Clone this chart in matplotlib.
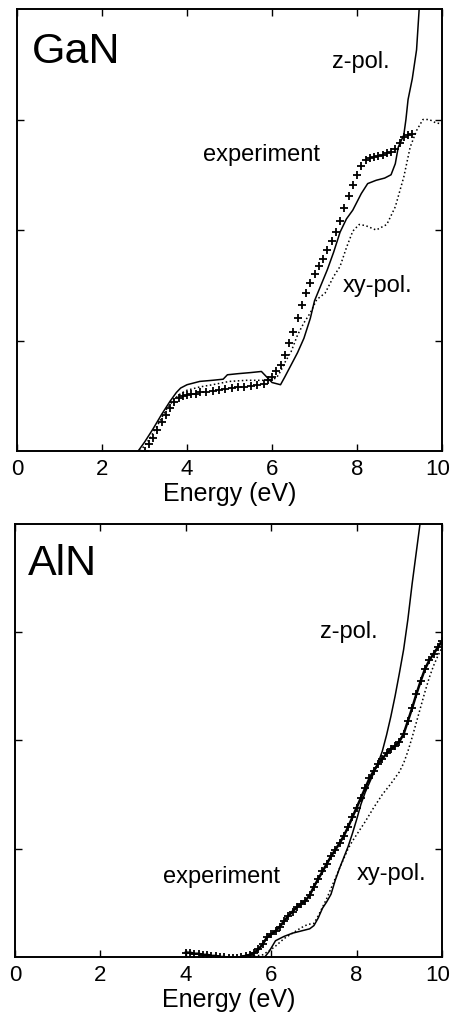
import numpy as np
import matplotlib.pyplot as plt
import matplotlib.transforms as mtransforms

plt.rcParams['font.family'] = ['Liberation Sans', 'DejaVu Sans']

# GaN: measured spectrum and the two calculated polarizations
gan_exp_e = [3.0, 3.1, 3.2, 3.3, 3.4, 3.5, 3.6, 3.7, 3.8, 3.9, 4.0, 4.1, 4.2, 4.3,
             4.45, 4.6, 4.75, 4.9, 5.05, 5.2, 5.35, 5.5, 5.65, 5.8, 5.9, 6.0, 6.1,
             6.2, 6.3, 6.4, 6.5, 6.6, 6.7, 6.8, 6.9, 7.0, 7.1, 7.2, 7.3, 7.4, 7.5,
             7.6, 7.7, 7.8, 7.9, 8.0, 8.1, 8.2, 8.3, 8.4, 8.5, 8.6, 8.7, 8.8, 8.9,
             9.0, 9.1, 9.2, 9.3]
gan_exp = [0.0, 0.06, 0.12, 0.19, 0.26, 0.33, 0.39, 0.44, 0.48, 0.5, 0.51, 0.52,
           0.52, 0.53, 0.53, 0.54, 0.55, 0.56, 0.57, 0.58, 0.58, 0.59, 0.6, 0.61,
           0.64, 0.67, 0.72, 0.78, 0.87, 0.98, 1.08, 1.2, 1.32, 1.43, 1.52, 1.6,
           1.67, 1.74, 1.82, 1.9, 1.98, 2.08, 2.2, 2.31, 2.41, 2.5, 2.58, 2.63,
           2.65, 2.66, 2.67, 2.68, 2.7, 2.71, 2.73, 2.79, 2.84, 2.86, 2.87]

gan_z_e = [2.85, 3.0, 3.2, 3.4, 3.6, 3.75, 3.85, 4.0, 4.3, 4.6, 4.85, 4.95, 5.2,
           5.5, 5.75, 5.85, 6.0, 6.2, 6.3, 6.45, 6.6, 6.75, 6.9, 7.0, 7.15, 7.3,
           7.45, 7.6, 7.75, 7.9, 8.1, 8.25, 8.45, 8.65, 8.8, 8.9, 8.97, 9.1,
           9.15, 9.2, 9.3, 9.4, 9.47]
gan_z = [0.0, 0.08, 0.2, 0.33, 0.45, 0.53, 0.57, 0.6, 0.63, 0.64, 0.65, 0.69,
         0.7, 0.71, 0.72, 0.68, 0.62, 0.6, 0.67, 0.78, 0.89, 1.02, 1.2, 1.36,
         1.5, 1.64, 1.8, 1.98, 2.1, 2.18, 2.33, 2.42, 2.45, 2.47, 2.5, 2.6,
         2.75, 2.86, 3.0, 3.18, 3.37, 3.63, 4.05]

gan_xy_e = [2.9, 3.1, 3.3, 3.5, 3.7, 3.85, 4.0, 4.3, 4.6, 5.0, 5.4, 5.9, 6.1,
            6.2, 6.3, 6.45, 6.6, 6.75, 6.9, 7.05, 7.25, 7.45, 7.6, 7.75, 7.9,
            8.05, 8.2, 8.45, 8.7, 8.9, 9.1, 9.25, 9.4, 9.55, 9.7, 9.85, 10.0]
gan_xy = [0.0, 0.1, 0.23, 0.37, 0.47, 0.52, 0.55, 0.58, 0.6, 0.63, 0.64, 0.64,
          0.66, 0.72, 0.8, 0.9, 1.05, 1.16, 1.25, 1.37, 1.43, 1.58, 1.67, 1.84,
          1.99, 2.05, 2.04, 2.0, 2.05, 2.21, 2.48, 2.75, 2.9, 3.0, 3.0, 2.97,
          2.96]

# AlN
aln_exp_e = [4.0, 4.1, 4.2, 4.3, 4.4, 4.5, 4.6, 4.7, 4.8, 4.9, 5.0, 5.1, 5.2,
             5.3, 5.4, 5.5, 5.6, 5.7, 5.8, 5.9, 6.0, 6.1, 6.2, 6.3, 6.4, 6.5,
             6.6, 6.7, 6.8, 6.9, 7.0, 7.1, 7.2, 7.3, 7.4, 7.5, 7.6, 7.7, 7.8,
             7.9, 8.0, 8.1, 8.2, 8.3, 8.4, 8.5, 8.6, 8.7, 8.8, 8.9, 9.0, 9.1,
             9.2, 9.3, 9.4, 9.5, 9.6, 9.7, 9.8, 9.9, 10.0]
aln_exp = [0.04, 0.04, 0.03, 0.03, 0.02, 0.02, 0.01, 0.01, 0.0, 0.0, -0.01,
           -0.01, -0.01, 0.0, 0.01, 0.02, 0.04, 0.07, 0.12, 0.18, 0.21, 0.24,
           0.28, 0.33, 0.38, 0.42, 0.46, 0.49, 0.52, 0.57, 0.65, 0.72, 0.79,
           0.86, 0.93, 0.99, 1.05, 1.12, 1.2, 1.29, 1.38, 1.47, 1.56, 1.65,
           1.72, 1.78, 1.83, 1.88, 1.92, 1.95, 1.99, 2.06, 2.18, 2.3, 2.43,
           2.55, 2.66, 2.74, 2.8, 2.86, 2.92]

aln_z_e = [5.85, 5.95, 6.1, 6.3, 6.5, 6.7, 6.9, 7.0, 7.1, 7.2, 7.3, 7.4, 7.5,
           7.6, 7.7, 7.8, 7.9, 8.0, 8.1, 8.2, 8.3, 8.4, 8.5, 8.6, 8.7, 8.8,
           8.9, 9.0, 9.1, 9.2, 9.3, 9.4, 9.5]
aln_z = [0.0, 0.05, 0.15, 0.19, 0.22, 0.24, 0.26, 0.29, 0.36, 0.45, 0.51, 0.58,
         0.71, 0.82, 0.92, 1.02, 1.14, 1.27, 1.41, 1.52, 1.61, 1.7, 1.79, 1.9,
         2.05, 2.22, 2.41, 2.62, 2.84, 3.12, 3.45, 3.75, 4.05]

aln_xy_e = [5.5, 5.8, 6.0, 6.1, 6.3, 6.5, 6.7, 6.85, 7.0, 7.1, 7.2, 7.3, 7.45,
            7.6, 7.7, 7.8, 7.9, 8.0, 8.2, 8.4, 8.6, 8.8, 9.0, 9.1, 9.2, 9.3,
            9.4, 9.5, 9.6, 9.7, 9.8, 9.9, 10.0]
aln_xy = [0.0, 0.02, 0.07, 0.1, 0.17, 0.22, 0.27, 0.3, 0.31, 0.38, 0.46, 0.54,
          0.68, 0.82, 0.91, 1.0, 1.07, 1.13, 1.25, 1.38, 1.5, 1.6, 1.71, 1.79,
          1.9, 2.03, 2.17, 2.31, 2.45, 2.58, 2.69, 2.78, 2.86]


def setup_axes(ax):
    ax.set_xlim(0, 10)
    ax.set_ylim(0, 4)
    ax.set_xticks([0, 2, 4, 6, 8, 10])
    ax.set_yticks([1, 2, 3])
    ax.set_yticklabels([])
    ax.tick_params(direction='in', top=True, right=True, length=5, width=1,
                   labelsize=16, pad=6)
    for s in ax.spines.values():
        s.set_linewidth(1.4)
    ax.set_xlabel('Energy (eV)', fontsize=18, labelpad=1)
    # nudge the "10" a few pixels left so it stays inside the figure
    shift = mtransforms.ScaledTranslation(-0.045, 0, ax.figure.dpi_scale_trans)
    last = ax.get_xticklabels()[-1]
    last.set_transform(last.get_transform() + shift)


fig = plt.figure(figsize=(4.52, 10.34), dpi=100)

ax1 = fig.add_axes([0.0376, 0.5638, 0.9404, 0.4275])
ax1.plot(gan_z_e, gan_z, 'k-', lw=1.1)
ax1.plot(gan_xy_e, gan_xy, 'k:', lw=1.1)
ax1.plot(gan_exp_e, gan_exp, 'k+', ms=6, mew=1.3)
setup_axes(ax1)
ax1.text(0.35, 3.51, 'GaN', fontsize=31)
ax1.text(7.41, 3.47, 'z-pol.', fontsize=17)
ax1.text(4.38, 2.62, 'experiment', fontsize=17)
ax1.text(7.67, 1.44, 'xy-pol.', fontsize=17)

ax2 = fig.add_axes([0.0332, 0.0745, 0.9448, 0.4187])
ax2.plot(aln_z_e, aln_z, 'k-', lw=1.1)
ax2.plot(aln_xy_e, aln_xy, 'k:', lw=1.1)
ax2.plot(aln_exp_e, aln_exp, 'k-', lw=1.8)
ax2.plot(aln_exp_e, aln_exp, 'k+', ms=6, mew=1.3)
setup_axes(ax2)
ax2.text(0.3, 3.53, 'AlN', fontsize=31)
ax2.text(7.14, 2.95, 'z-pol.', fontsize=17)
ax2.text(3.47, 0.68, 'experiment', fontsize=17)
ax2.text(8.0, 0.71, 'xy-pol.', fontsize=17)

fig.savefig('out.png', dpi=100)
